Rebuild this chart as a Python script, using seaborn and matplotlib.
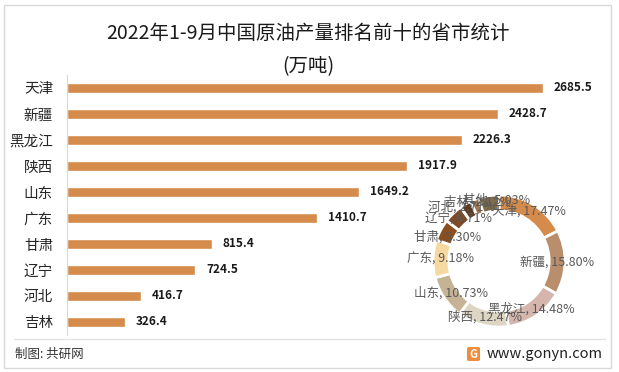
import numpy as np
import pandas as pd
import matplotlib
matplotlib.use("Agg")
import matplotlib.pyplot as plt
import seaborn as sns
from matplotlib.patches import Rectangle, FancyBboxPatch

# ----------------------
# datos
# ----------------------
provincias = ["天津", "新疆", "黑龙江", "陕西", "山东", "广东", "甘肃", "辽宁", "河北", "吉林"]
produccion = [2685.5, 2428.7, 2226.3, 1917.9, 1649.2, 1410.7, 815.4, 724.5, 416.7, 326.4]

donut_labels = ["天津", "新疆", "黑龙江", "陕西", "山东", "广东", "甘肃", "辽宁", "河北", "吉林", "其他"]
donut_pct = [17.47, 15.80, 14.48, 12.47, 10.73, 9.18, 5.30, 4.71, 2.71, 2.12, 5.03]
donut_colors = ["#D58B4B", "#B98E6C", "#D5B6AC", "#DDD6C4", "#C6B396", "#F6D9A0",
                "#8A4E1F", "#7B4B2A", "#5E3B22", "#A27850", "#7F6C4C"]

df = pd.DataFrame({"provincia": provincias, "produccion": produccion})

sns.set_style("white")
plt.rcParams["font.family"] = ["Noto Sans CJK SC", "DejaVu Sans"]

fig = plt.figure(figsize=(6.19, 3.72), dpi=100)

# marco exterior
fig.patches.append(Rectangle((4 / 619, 1 - 368 / 372), 607 / 619, 363 / 372,
                             transform=fig.transFigure, fill=False,
                             edgecolor="#D9D9D9", linewidth=1))

# ----------------------
# barras
# ----------------------
ax = fig.add_axes([67 / 619, 1 - 335 / 372, 538 / 619, 260 / 372])
sns.barplot(data=df, x="produccion", y="provincia", color="#D58B4B",
            width=0.4, saturation=1, ax=ax)
ax.set_xlim(0, 3035)
ax.set_ylim(9.5, -0.5)
ax.set_xlabel("")
ax.set_ylabel("")
ax.set_xticks([])
for s in ["top", "right", "bottom"]:
    ax.spines[s].set_visible(False)
ax.spines["left"].set_color("#D9D9D9")
ax.tick_params(axis="y", length=0, pad=10, labelsize=10.5)
for i, v in enumerate(produccion):
    ax.text(v + 60, i, f"{v:.1f}", va="center", ha="left",
            fontsize=8.5, fontweight="bold", color="#1a1a1a")
ax.patch.set_alpha(0)

# ----------------------
# donut
# ----------------------
ax2 = fig.add_axes([(499 - 70) / 619, 1 - (261 + 70) / 372, 140 / 619, 140 / 372])
wedges, _ = ax2.pie(donut_pct, colors=donut_colors, startangle=90, counterclock=False,
                    radius=1, wedgeprops=dict(width=0.24, edgecolor="white", linewidth=2))
ax2.set_xlim(-1.06, 1.06)
ax2.set_ylim(-1.06, 1.06)
ax2.set_aspect("equal")
# pequeños ajustes para las etiquetas de las rebanadas chicas
ajuste = {"河北": (-0.12, 0.06), "吉林": (0.0, 0.08), "其他": (0.1, 0.06), "甘肃": (0.0, -0.05)}
tot = sum(donut_pct)
acum = 0
for lab, p in zip(donut_labels, donut_pct):
    mid = (acum + p / 2) / tot * 2 * np.pi
    acum += p
    dx, dy = ajuste.get(lab, (0, 0))
    x = 0.88 * np.sin(mid) + dx
    y = 0.88 * np.cos(mid) + dy
    ax2.text(x, y, f"{lab}, {p:.2f}%", ha="center", va="center",
             fontsize=9, color="#595959")

# ----------------------
# titulo y pie
# ----------------------
fig.text(308 / 619, 1 - 33 / 372, "2022年1-9月中国原油产量排名前十的省市统计",
         ha="center", va="center", fontsize=14, color="#1a1a1a")
fig.text(308 / 619, 1 - 67 / 372, "(万吨)", ha="center", va="center",
         fontsize=14, color="#1a1a1a")

fig.add_artist(plt.Line2D([14 / 619, 605 / 619], [1 - 339 / 372, 1 - 339 / 372],
                          transform=fig.transFigure, color="#E3E3E3", linewidth=1))
fig.text(15 / 619, 1 - 354 / 372, "制图: 共研网", ha="left", va="center",
         fontsize=9, color="#333333")
fig.patches.append(FancyBboxPatch((467 / 619, 1 - 361 / 372), 13 / 619, 14 / 372,
                                  boxstyle="round,pad=0,rounding_size=0.004",
                                  transform=fig.transFigure, facecolor="#F08C3C",
                                  edgecolor="none"))
fig.text(473.5 / 619, 1 - 354 / 372, "G", ha="center", va="center", fontsize=8,
         fontweight="bold", color="white")
fig.text(603 / 619, 1 - 354 / 372, "www.gonyn.com", ha="right", va="center",
         fontsize=10.5, color="#222222")

plt.savefig("out.png", dpi=100)
